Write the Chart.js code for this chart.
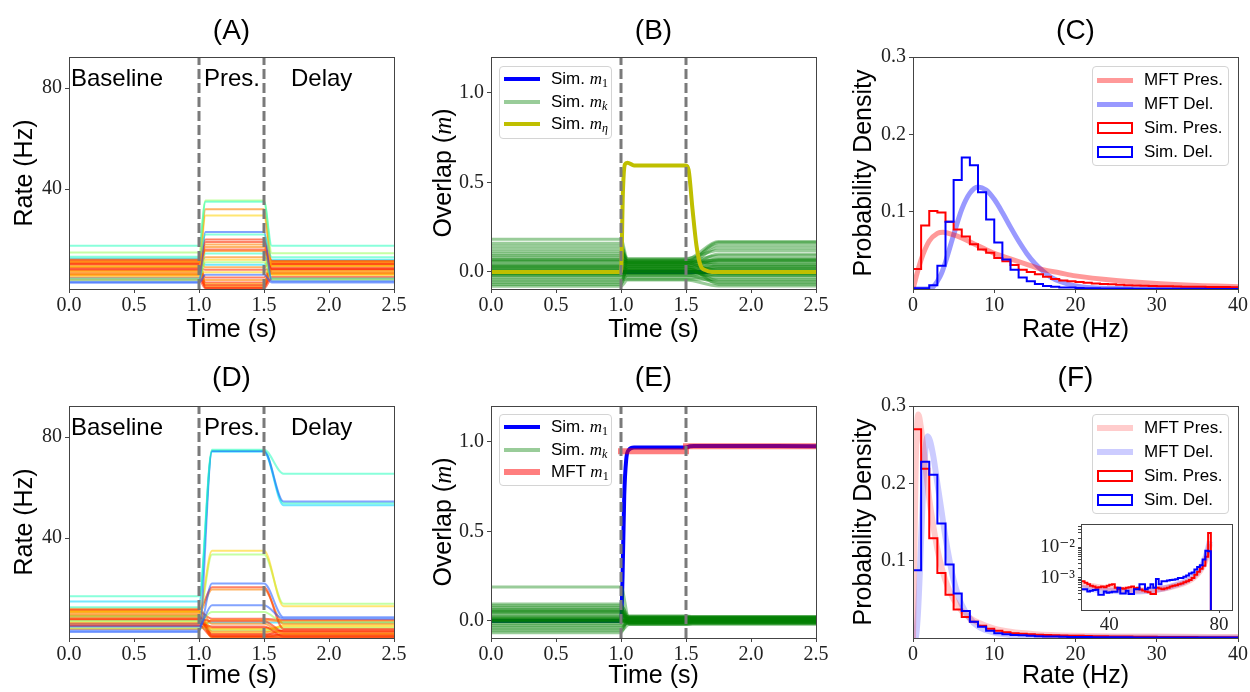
<!DOCTYPE html>
<html>
<head>
<meta charset="utf-8">
<title>Rates, overlaps and rate distributions</title>
<script src="https://cdn.jsdelivr.net/npm/chart.js@4.4.1/dist/chart.umd.min.js"></script>
<style>
  body { margin: 0; background: #fff; }
  #figure { position: relative; width: 1250px; height: 692px; overflow: hidden; font-family: "Liberation Sans", Arial, sans-serif; }
  #figure canvas { position: absolute; }
  .legend { position: absolute; box-sizing: border-box; border: 1px solid #d4d4d4; border-radius: 4px; background: rgba(255,255,255,0.8); padding: 1px 0 0 4px; font-size: 17px; color: #000; z-index: 5; }
  .legend .row { display: flex; align-items: center; white-space: nowrap; }
  .legend .sw { width: 36px; margin-right: 11px; display: flex; align-items: center; justify-content: center; }
  .legend .ln { display: block; width: 36px; }
  .legend .bx { display: block; box-sizing: border-box; width: 36px; height: 12px; border: 2px solid; }
  .math { font-family: "Liberation Serif", "DejaVu Serif", serif; font-style: italic; }
  .legend sub { font-family: "Liberation Serif", "DejaVu Serif", serif; font-size: 12px; line-height: 0; vertical-align: -3px; }
  .ytitle { position: absolute; width: 240px; height: 30px; line-height: 30px; text-align: center; font-size: 25px; color: #000; transform: rotate(-90deg); z-index: 4; }
</style>
</head>
<body>
<div id="figure">
  <div class="ytitle" style="left:322px;top:158px;">Overlap (<span class="math">m</span>)</div>
  <div class="ytitle" style="left:322px;top:507px;">Overlap (<span class="math">m</span>)</div>

  <div class="legend" style="left:499px;top:66px;width:113px;height:73px;">
    <div class="row" style="height:22.5px"><span class="sw"><span class="ln" style="height:4px;background:#0000ff"></span></span><span>Sim. <span class="math">m</span><sub>1</sub></span></div>
    <div class="row" style="height:22.5px"><span class="sw"><span class="ln" style="height:4px;background:rgba(0,128,0,0.4)"></span></span><span>Sim. <span class="math">m</span><sub class="math">k</sub></span></div>
    <div class="row" style="height:22.5px"><span class="sw"><span class="ln" style="height:4px;background:#bfbf00"></span></span><span>Sim. <span class="math">m</span><sub class="math">η</sub></span></div>
  </div>

  <div class="legend" style="left:499px;top:414px;width:113px;height:72px;">
    <div class="row" style="height:22.5px"><span class="sw"><span class="ln" style="height:4px;background:#0000ff"></span></span><span>Sim. <span class="math">m</span><sub>1</sub></span></div>
    <div class="row" style="height:22.5px"><span class="sw"><span class="ln" style="height:4px;background:rgba(0,128,0,0.4)"></span></span><span>Sim. <span class="math">m</span><sub class="math">k</sub></span></div>
    <div class="row" style="height:22.5px"><span class="sw"><span class="ln" style="height:6px;background:rgba(255,0,0,0.5)"></span></span><span>MFT <span class="math">m</span><sub>1</sub></span></div>
  </div>

  <div class="legend" style="left:1092px;top:66px;width:137px;height:100px;">
    <div class="row" style="height:24px"><span class="sw"><span class="ln" style="height:5px;background:rgba(255,0,0,0.4)"></span></span><span>MFT Pres.</span></div>
    <div class="row" style="height:24px"><span class="sw"><span class="ln" style="height:5px;background:rgba(0,0,255,0.4)"></span></span><span>MFT Del.</span></div>
    <div class="row" style="height:24px"><span class="sw"><span class="bx" style="border-color:#ff0000"></span></span><span>Sim. Pres.</span></div>
    <div class="row" style="height:24px"><span class="sw"><span class="bx" style="border-color:#0000ff"></span></span><span>Sim. Del.</span></div>
  </div>

  <div class="legend" style="left:1092px;top:414px;width:137px;height:100px;">
    <div class="row" style="height:24px"><span class="sw"><span class="ln" style="height:6px;background:rgba(255,0,0,0.2)"></span></span><span>MFT Pres.</span></div>
    <div class="row" style="height:24px"><span class="sw"><span class="ln" style="height:6px;background:rgba(0,0,255,0.2)"></span></span><span>MFT Del.</span></div>
    <div class="row" style="height:24px"><span class="sw"><span class="bx" style="border-color:#ff0000"></span></span><span>Sim. Pres.</span></div>
    <div class="row" style="height:24px"><span class="sw"><span class="bx" style="border-color:#0000ff"></span></span><span>Sim. Del.</span></div>
  </div>
</div>

<script>
// ---------------- data ----------------
const timeTicks = [0, 0.5, 1.0, 1.5, 2.0, 2.5];
const rateTicks = [40, 80];
const overlapTicks = [0, 0.5, 1.0];
const densityTicks = [0.1, 0.2, 0.3];
const hzTicks = [0, 10, 20, 30, 40];
const insetHzTicks = [40, 80];
const insetMajorTicks = [0.001, 0.01];
const insetMinorTicks = [0.0002, 0.0003, 0.0004, 0.0005, 0.0006, 0.0007, 0.0008, 0.0009,
  0.002, 0.003, 0.004, 0.005, 0.006, 0.007, 0.008, 0.009, 0.02, 0.03, 0.04, 0.05];

const cueTimes = [1.0, 1.5];
const phaseNames = ["Baseline", "Pres.", "Delay"];

// knot times of each trace: start, cue on, settled, cue off, settled, end
const knotsA = [0, 1.0, 1.05, 1.5, 1.56, 2.5];
const knotsD = [0, 1.0, 1.1, 1.5, 1.65, 2.5];
const knotsB = [0, 1.0, 1.05, 1.5, 1.75, 2.5];
const knotsE = [0, 1.0, 1.06, 1.5, 1.55, 2.5];

// (A) single-neuron rates, Hz: [baseline, presentation, delay]
const ratesA = [
  [17.5, 35.0, 17.5], [14.9, 35.5, 14.6], [13.2, 22.0, 13.0], [11.0, 32.0, 11.2],
  [9.2, 29.5, 9.6], [3.3, 23.0, 3.5], [12.0, 20.0, 11.5], [8.1, 19.0, 8.2],
  [6.1, 18.0, 6.6], [10.6, 16.0, 10.4], [7.0, 15.5, 7.2], [4.6, 14.5, 4.6],
  [9.6, 13.0, 9.4], [5.6, 12.0, 6.0], [3.9, 11.0, 4.1], [12.5, 10.0, 12.0],
  [11.5, 9.0, 11.0], [8.6, 8.0, 8.4], [7.5, 7.0, 7.6], [2.9, 6.0, 3.0],
  [10.1, 5.0, 10.0], [6.5, 4.0, 6.6], [9.0, 3.0, 8.9], [5.0, 2.0, 5.2],
  [11.2, 1.5, 10.6], [7.8, 1.0, 8.0], [12.1, 2.5, 11.6], [4.2, 0.6, 4.5],
  [6.0, 17.0, 6.1], [10.4, 0.9, 10.1]
];
const hueA = ["aqua", "lime", "aqua", "orange", "yellow", "blue", "red", "red",
  "orange", "red", "orange", "aqua", "orange", "yellow", "lime", "cyan",
  "orange", "red", "yellow", "blue", "red", "orange", "red", "red",
  "orange", "red", "yellow", "red", "orange", "red"];

// (D) single-neuron rates, Hz: [baseline, presentation, delay]
const ratesD = [
  [16.9, 75.0, 65.5], [2.8, 74.5, 54.5], [14.9, 74.2, 53.0], [12.6, 74.6, 53.8],
  [11.0, 35.0, 13.0], [9.0, 33.5, 14.0], [3.4, 22.0, 8.6], [5.0, 13.4, 8.0],
  [11.6, 20.5, 4.0], [10.1, 19.6, 6.0], [7.1, 10.7, 6.5], [8.1, 7.0, 3.0],
  [12.0, 6.0, 2.0], [6.1, 5.0, 1.0], [10.6, 4.0, 5.0], [9.5, 3.0, 2.5],
  [7.6, 2.0, 1.5], [5.5, 1.0, 0.5], [4.5, 3.5, 4.5], [8.6, 0.5, 0.8],
  [11.2, 1.5, 3.5], [6.6, 2.5, 5.5], [4.0, 7.5, 7.0], [9.1, 0.8, 2.0],
  [6.0, 6.5, 6.5], [10.8, 8.0, 7.5], [7.8, 1.2, 1.2], [5.2, 4.5, 3.0]
];
const hueD = ["aqua", "blue", "cyan", "aqua", "yellow", "lime", "blue", "blue",
  "red", "orange", "lime", "red", "orange", "red", "yellow", "orange",
  "red", "red", "lime", "orange", "red", "yellow", "orange", "red",
  "cyan", "red", "orange", "red"];

// (B) overlaps with the other patterns m_k: [baseline, presentation, delay]
const overlapsB = [
  [0.183, 0.07, 0.17], [0.16, 0.05, 0.165], [0.145, 0.06, 0.15], [0.13, 0.04, 0.135],
  [0.115, 0.075, 0.12], [0.10, 0.03, 0.10], [0.09, 0.06, 0.09], [0.08, 0.02, 0.075],
  [0.07, 0.05, 0.07], [0.06, 0.01, 0.06], [0.05, 0.045, 0.055], [0.04, 0.0, 0.04],
  [0.03, 0.035, 0.03], [0.02, -0.01, 0.02], [0.01, 0.025, 0.012], [0.0, -0.02, 0.0],
  [-0.01, 0.015, -0.01], [-0.02, -0.03, -0.02], [-0.03, 0.005, -0.03], [-0.04, -0.04, -0.042],
  [-0.05, 0.02, -0.05], [-0.06, -0.015, -0.06], [-0.07, 0.03, -0.068], [-0.079, -0.045, -0.078],
  [0.065, 0.055, 0.065], [0.025, 0.01, 0.025], [-0.015, -0.005, -0.015], [0.035, 0.065, 0.04],
  [0.004, 0.002, 0.003], [-0.004, -0.003, -0.002], [0.012, 0.04, 0.01], [-0.006, 0.055, -0.005]
];
const m1TimesB = [0, 2.5];
const m1ValuesB = [0, 0];
const etaTimesB = [0, 1.0, 1.015, 1.03, 1.05, 1.1, 1.5, 1.52, 1.55, 1.58, 1.61, 1.65, 1.7, 2.5];
const etaValuesB = [0, 0, 0.45, 0.6, 0.61, 0.595, 0.595, 0.57, 0.35, 0.15, 0.04, 0.01, 0, 0];

// (E) overlaps m_k: [baseline, presentation, delay]
const overlapsE = [
  [0.19, 0.02, 0.02], [0.095, 0.0, 0.005], [0.085, 0.028, 0.025], [0.075, -0.012, -0.01],
  [0.065, 0.018, 0.02], [0.055, -0.018, -0.015], [0.045, 0.01, 0.01], [0.035, 0.024, 0.022],
  [0.025, -0.005, 0.0], [0.015, 0.014, 0.015], [0.005, -0.015, -0.012], [-0.005, 0.005, 0.005],
  [-0.015, 0.02, 0.018], [-0.025, -0.01, -0.008], [-0.035, 0.0, 0.0], [-0.045, 0.008, 0.01],
  [-0.055, -0.02, -0.018], [-0.065, 0.015, 0.012], [0.06, -0.005, -0.004], [0.02, 0.026, 0.024],
  [0.05, -0.008, -0.006], [0.01, 0.012, 0.01], [0.003, -0.002, -0.001], [-0.003, 0.003, 0.002],
  [0.0, 0.0, 0.0], [0.007, -0.007, -0.006]
];
const m1TimesE = [0, 1.0, 1.012, 1.025, 1.04, 1.06, 1.1, 1.5, 1.53, 1.56, 2.5];
const m1ValuesE = [0, 0, 0.25, 0.7, 0.9, 0.955, 0.968, 0.968, 0.975, 0.977, 0.976];
const mftPresTimesE = [0.977, 1.523];
const mftPresE = [0.948, 0.948];
const mftDelayTimesE = [1.477, 2.5];
const mftDelayE = [0.976, 0.976];

// (C, F) rate histograms, 1 Hz bins
const binEdgesHz = [0, 1, 2, 3, 4, 5, 6, 7, 8, 9, 10, 11, 12, 13, 14, 15, 16, 17, 18, 19, 20,
  21, 22, 23, 24, 25, 26, 27, 28, 29, 30, 31, 32, 33, 34, 35, 36, 37, 38, 39, 40];
const simPresC = [0.026, 0.082, 0.101, 0.099, 0.087, 0.077, 0.068, 0.058, 0.051, 0.047,
  0.040, 0.036, 0.031, 0.025, 0.022, 0.019, 0.016, 0.013, 0.011, 0.010,
  0.009, 0.008, 0.007, 0.0065, 0.006, 0.0055, 0.005, 0.0045, 0.0042, 0.004,
  0.0037, 0.0035, 0.0033, 0.003, 0.0029, 0.0028, 0.0027, 0.0026, 0.0025, 0.0024];
const simDelC = [0.001, 0.001, 0.005, 0.030, 0.087, 0.141, 0.170, 0.160, 0.125, 0.090,
  0.060, 0.038, 0.025, 0.015, 0.010, 0.0065, 0.004, 0.003, 0.002, 0.002,
  0.0012, 0.001, 0.001, 0.0008, 0.0006, 0.0005, 0.0005, 0.0004, 0.0004, 0.0003,
  0.0003, 0.0003, 0.0002, 0.0002, 0.0002, 0.0002, 0.0001, 0.0001, 0.0001, 0.0001];
const mftPresHzC = [0, 0.5, 1, 2, 3, 3.7, 5, 6, 7, 8, 10, 12, 14, 16, 18, 20, 25, 30, 35, 40];
const mftPresC = [0, 0.02, 0.038, 0.062, 0.072, 0.0735, 0.070, 0.066, 0.061, 0.056,
  0.046, 0.039, 0.032, 0.025, 0.021, 0.017, 0.011, 0.007, 0.0045, 0.003];
const mftDelHzC = [0, 2, 2.5, 3, 3.5, 4, 5, 6, 7, 8, 9, 10, 11, 12, 13, 14, 15, 16, 17, 18, 20, 22, 25, 30, 40];
const mftDelC = [0, 0, 0.003, 0.01, 0.02, 0.035, 0.07, 0.103, 0.124, 0.132, 0.128, 0.116, 0.099,
  0.080, 0.062, 0.046, 0.033, 0.023, 0.015, 0.010, 0.004, 0.0015, 0.0005, 0.0001, 0];

const simPresF = [0.270, 0.219, 0.129, 0.084, 0.056, 0.037, 0.027, 0.021, 0.016, 0.012,
  0.0095, 0.0073, 0.0062, 0.0055, 0.0048, 0.0043, 0.004, 0.0036, 0.0033, 0.003,
  0.0028, 0.0026, 0.0024, 0.0022, 0.002, 0.0019, 0.0018, 0.0017, 0.0016, 0.0015,
  0.0014, 0.0013, 0.0013, 0.0012, 0.0012, 0.0011, 0.0011, 0.001, 0.001, 0.001];
const simDelF = [0.0875, 0.228, 0.211, 0.148, 0.095, 0.0575, 0.035, 0.021, 0.0146, 0.0095,
  0.006, 0.0047, 0.004, 0.0034, 0.0028, 0.0024, 0.002, 0.0018, 0.0016, 0.0014,
  0.0013, 0.0012, 0.0011, 0.001, 0.001, 0.0009, 0.0009, 0.0008, 0.0008, 0.0008,
  0.0007, 0.0007, 0.0007, 0.0006, 0.0006, 0.0006, 0.0006, 0.0006, 0.0005, 0.0005];
const mftPresHzF = [0, 0.15, 0.35, 0.65, 1.0, 1.5, 2, 2.5, 3, 3.5, 4, 5, 6, 7, 8, 10, 12, 15, 20, 30, 40];
const mftPresF = [0, 0.1, 0.23, 0.289, 0.27, 0.225, 0.18, 0.145, 0.115, 0.092, 0.074, 0.05,
  0.035, 0.026, 0.02, 0.012, 0.008, 0.005, 0.003, 0.0018, 0.0012];
const mftDelHzF = [0, 0.3, 0.6, 0.9, 1.2, 1.5, 1.8, 2.1, 2.5, 3, 3.5, 4, 4.5, 5, 5.5, 6, 7, 8, 9, 10, 12, 15, 20, 30, 40];
const mftDelF = [0, 0, 0.03, 0.1, 0.18, 0.24, 0.261, 0.255, 0.235, 0.2, 0.165, 0.13, 0.1, 0.075,
  0.057, 0.043, 0.025, 0.015, 0.01, 0.007, 0.004, 0.002, 0.001, 0.0005, 0.0003];

// (F inset) high-rate tail, log density, 1 Hz bins from 29 to 77 Hz
const insetEdgesHz = [29, 30, 31, 32, 33, 34, 35, 36, 37, 38, 39, 40, 41, 42, 43, 44, 45, 46, 47, 48,
  49, 50, 51, 52, 53, 54, 55, 56, 57, 58, 59, 60, 61, 62, 63, 64, 65, 66, 67, 68,
  69, 70, 71, 72, 73, 74, 75, 76, 77];
const insetPres = [7.8e-4, 7.8e-4, 7.0e-4, 6.2e-4, 5.5e-4, 5.2e-4, 4.8e-4, 5.0e-4, 5.2e-4, 5.0e-4,
  5.5e-4, 6.0e-4, 6.2e-4, 4.8e-4, 4.3e-4, 4.6e-4, 4.4e-4, 4.8e-4, 5.0e-4, 5.2e-4,
  4.6e-4, 4.8e-4, 4.2e-4, 3.9e-4, 3.6e-4, 3.4e-4, 3.0e-4, 3.0e-4, 4.8e-4, 4.5e-4,
  4.3e-4, 4.5e-4, 4.8e-4, 5.2e-4, 5.5e-4, 5.8e-4, 6.2e-4, 6.6e-4, 7.2e-4, 7.8e-4,
  8.5e-4, 1.0e-3, 1.27e-3, 1.6e-3, 2.0e-3, 2.5e-3, 5.0e-3, 3.0e-2];
const insetDel = [4.3e-4, 4.3e-4, 4.3e-4, 3.6e-4, 3.8e-4, 4.0e-4, 4.1e-4, 2.8e-4, 2.8e-4, 3.6e-4,
  3.3e-4, 3.4e-4, 3.5e-4, 3.5e-4, 4.8e-4, 3.1e-4, 3.1e-4, 3.8e-4, 3.0e-4, 3.0e-4,
  4.3e-4, 4.3e-4, 6.2e-4, 6.2e-4, 4.3e-4, 4.8e-4, 6.2e-4, 4.8e-4, 9.3e-4, 6.2e-4,
  7.8e-4, 7.8e-4, 8.2e-4, 8.5e-4, 8.8e-4, 9.0e-4, 1.0e-3, 1.0e-3, 1.1e-3, 1.2e-3,
  1.4e-3, 1.5e-3, 1.9e-3, 2.3e-3, 2.6e-3, 4.0e-3, 7.8e-3, 7.5e-3];
const mftInsetHz = [29, 35, 40, 45, 50, 55, 60, 65, 68, 70, 72, 74, 75, 76, 76.6];
const mftInsetPres = [6.5e-4, 5.2e-4, 4.5e-4, 4.1e-4, 3.9e-4, 4.0e-4, 4.5e-4, 5.8e-4, 7.2e-4,
  9.0e-4, 1.3e-3, 2.3e-3, 3.6e-3, 7.0e-3, 1.3e-2];
const mftInsetDel = [4.8e-4, 4.2e-4, 3.8e-4, 3.6e-4, 3.6e-4, 3.9e-4, 4.6e-4, 6.2e-4, 8.0e-4,
  1.05e-3, 1.5e-3, 2.8e-3, 4.6e-3, 9.5e-3, 1.6e-2];

// ---------------- styling ----------------
const SANS = '"Liberation Sans", Arial, sans-serif';
const SERIF = '"Liberation Serif", "DejaVu Serif", serif';
const AXIS_COLOR = "#444";
const jet = {
  blue: "rgba(30,90,255,0.55)",
  cyan: "rgba(0,215,255,0.55)",
  aqua: "rgba(40,255,190,0.55)",
  lime: "rgba(150,255,90,0.55)",
  yellow: "rgba(255,210,0,0.55)",
  orange: "rgba(255,130,0,0.6)",
  red: "rgba(255,45,0,0.6)"
};

Chart.defaults.font.family = SANS;

const framePlugin = {
  id: "frame",
  beforeDatasetsDraw(chart, args, opts)
  {
     if (!opts.fill) return;
     const a = chart.chartArea;
     chart.ctx.save();
     chart.ctx.fillStyle = opts.fill;
     chart.ctx.fillRect(a.left, a.top, a.right - a.left, a.bottom - a.top);
     chart.ctx.restore();
  },
  afterDraw(chart)
  {
     const a = chart.chartArea;
     const ctx = chart.ctx;
     ctx.save();
     ctx.strokeStyle = AXIS_COLOR;
     ctx.lineWidth = 1;
     const l = Math.round(a.left) + 0.5, t = Math.round(a.top) + 0.5;
     ctx.strokeRect(l, t, Math.round(a.right) - Math.round(a.left), Math.round(a.bottom) - Math.round(a.top));
     ctx.restore();
  }
};

// region names written inside the rate panels
const phasePlugin = {
  id: "phaseLabels",
  afterDatasetsDraw(chart, args, opts)
  {
     if (!opts.names) return;
     const ctx = chart.ctx;
     const x = chart.scales.x, y = chart.scales.y;
     ctx.save();
     ctx.font = "24px " + SANS;
     ctx.fillStyle = "#000";
     ctx.textBaseline = "alphabetic";
     opts.names.forEach(function(name, i)
     {
        ctx.fillText(name, x.getPixelForValue(opts.at[i]) + opts.dx[i], y.getPixelForValue(opts.y));
     });
     ctx.restore();
  }
};

Chart.register(framePlugin, phasePlugin);

function axis(o)
{
   return {
      type: o.type || "linear",
      min: o.min,
      max: o.max,
      afterBuildTicks: function(s) { s.ticks = o.ticks.map(v => ({ value: v })); },
      afterFit: function(s) { if (s.isHorizontal()) s.height = o.size; else s.width = o.size; },
      grid: { drawOnChartArea: false, tickLength: o.tickLength || 4, tickColor: AXIS_COLOR },
      border: { display: true, color: AXIS_COLOR },
      ticks: {
         font: { family: SERIF, size: o.tickSize || 20 },
         color: "#222",
         padding: o.tickPad,
         autoSkip: false,
         maxRotation: 0,
         callback: o.format
      },
      title: o.title ? {
         display: true, text: o.title, color: "#000",
         font: { family: SANS, size: 25 },
         padding: o.titlePad
      } : { display: false }
   };
}

function panelOptions(box, title, xAxis, yAxis, extra)
{
   const titleTop = box.plotTop - box.top > 58 ? 15 : 14;
   const opts = {
      responsive: false,
      animation: false,
      events: [],
      layout: { padding: { left: 0, right: box.left + box.width - box.plotRight, top: title ? 0 : box.plotTop - box.top, bottom: 0 } },
      plugins: {
         legend: { display: false },
         tooltip: { enabled: false },
         title: title ? {
            display: true, text: title, fullSize: false, color: "#000",
            font: { family: SANS, size: 28, weight: "normal" },
            padding: { top: titleTop, bottom: box.plotTop - box.top - titleTop - 33.6 }
         } : { display: false }
      },
      scales: { x: xAxis, y: yAxis }
   };
   Object.assign(opts.plugins, extra || {});
   return opts;
}

function makeChart(box, datasets, options)
{
   const canvas = document.createElement("canvas");
   canvas.width = box.width;
   canvas.height = box.height;
   canvas.style.left = box.left + "px";
   canvas.style.top = box.top + "px";
   canvas.style.zIndex = box.z || 1;
   document.getElementById("figure").appendChild(canvas);
   return new Chart(canvas.getContext("2d"), { type: "line", data: { datasets: datasets }, options: options });
}

function levelTrace(knots, levels, color, width, order)
{
   const pick = [0, 0, 1, 1, 2, 2];
   return {
      data: knots.map((t, i) => ({ x: t, y: levels[pick[i]] })),
      borderColor: color, borderWidth: width, pointRadius: 0,
      cubicInterpolationMode: "monotone", fill: false, order: order
   };
}

function curve(xs, ys, color, width, order)
{
   return {
      data: xs.map((x, i) => ({ x: x, y: ys[i] })),
      borderColor: color, borderWidth: width, pointRadius: 0,
      cubicInterpolationMode: "monotone", fill: false, order: order
   };
}

function stepHistogram(edges, dens, color, order, base, closeRight)
{
   const pts = [{ x: edges[0], y: base }];
   dens.forEach((d, i) => pts.push({ x: edges[i], y: d }));
   pts.push({ x: edges[dens.length], y: dens[dens.length - 1] });
   if (closeRight) pts.push({ x: edges[dens.length], y: base });
   return { data: pts, stepped: true, borderColor: color, borderWidth: 2, pointRadius: 0, fill: false, order: order };
}

function cueLines(yMin, yMax)
{
   return cueTimes.map(t => ({
      data: [{ x: t, y: yMin }, { x: t, y: yMax }],
      borderColor: "#7a7a7a", borderWidth: 3, borderDash: [10, 4], pointRadius: 0, fill: false, order: -1
   }));
}

const fmt1 = v => v.toFixed(1);
const fmt0 = v => String(Math.round(v));

// ---------------- panel geometry ----------------
const boxA = { left: 0, top: 0, width: 410, height: 346, plotLeft: 69, plotTop: 57, plotRight: 394, plotBottom: 289 };
const boxB = { left: 420, top: 0, width: 412, height: 346, plotLeft: 491, plotTop: 57, plotRight: 816, plotBottom: 289 };
const boxC = { left: 840, top: 0, width: 410, height: 346, plotLeft: 913, plotTop: 57, plotRight: 1238, plotBottom: 289 };
const boxD = { left: 0, top: 346, width: 410, height: 346, plotLeft: 69, plotTop: 406, plotRight: 394, plotBottom: 638 };
const boxE = { left: 420, top: 346, width: 412, height: 346, plotLeft: 491, plotTop: 406, plotRight: 816, plotBottom: 638 };
const boxF = { left: 840, top: 346, width: 410, height: 346, plotLeft: 913, plotTop: 406, plotRight: 1238, plotBottom: 638 };
const boxInset = { left: 1030, top: 510, width: 215, height: 130, plotLeft: 1081, plotTop: 521, plotRight: 1232, plotBottom: 610, z: 3 };

function timeAxis(box)
{
   return axis({ min: 0, max: 2.5, ticks: timeTicks, format: fmt1, size: box.top + box.height - box.plotBottom,
      tickPad: 1, title: "Time (s)", titlePad: { top: 0, bottom: 1 } });
}
function hzAxis(box)
{
   return axis({ min: 0, max: 40, ticks: hzTicks, format: fmt0, size: box.top + box.height - box.plotBottom,
      tickPad: 1, title: "Rate (Hz)", titlePad: { top: 0, bottom: 1 } });
}

// ---------------- (A) and (D): rates ----------------
function ratePanel(box, title, knots, rates, hues)
{
   const sets = rates.map((r, i) => levelTrace(knots, r, jet[hues[i]], 2, 2));
   const yMin = 0.4, yMax = 92.3;
   makeChart(box, sets.concat(cueLines(yMin, yMax)), panelOptions(box, title,
      timeAxis(box),
      axis({ min: yMin, max: yMax, ticks: rateTicks, format: fmt0, size: box.plotLeft - box.left,
         tickPad: 3, title: "Rate (Hz)", titlePad: { top: 10, bottom: 0 } }),
      { phaseLabels: { names: phaseNames, at: [0, cueTimes[0], cueTimes[1]], dx: [2, 5, 27], y: 80.7 } }));
}
ratePanel(boxA, "(A)", knotsA, ratesA, hueA);
ratePanel(boxD, "(D)", knotsD, ratesD, hueD);

// ---------------- (B) and (E): overlaps ----------------
function overlapAxis(box)
{
   return axis({ min: -0.095, max: 1.2, ticks: overlapTicks, format: fmt1, size: box.plotLeft - box.left, tickPad: 3 });
}

// m1 sits underneath the m_k bundle, as in the simulation plot
const setsB = [curve(m1TimesB, m1ValuesB, "#0000ff", 4, 5)]
   .concat(overlapsB.map(o => levelTrace(knotsB, o, "rgba(0,128,0,0.4)", 3, 3)))
   .concat([curve(etaTimesB, etaValuesB, "#bfbf00", 4, 1)])
   .concat(cueLines(-0.095, 1.2));
makeChart(boxB, setsB, panelOptions(boxB, "(B)", timeAxis(boxB), overlapAxis(boxB)));

const setsE = [curve(m1TimesE, m1ValuesE, "#0000ff", 4, 4)]
   .concat(overlapsE.map(o => levelTrace(knotsE, o, "rgba(0,128,0,0.4)", 3, 3)))
   .concat([curve(mftPresTimesE, mftPresE, "rgba(255,0,0,0.5)", 6, 1), curve(mftDelayTimesE, mftDelayE, "rgba(255,0,0,0.5)", 6, 1)])
   .concat(cueLines(-0.095, 1.2));
makeChart(boxE, setsE, panelOptions(boxE, "(E)", timeAxis(boxE), overlapAxis(boxE)));

// ---------------- (C) and (F): rate distributions ----------------
function densityAxis(box)
{
   return axis({ min: 0, max: 0.3, ticks: densityTicks, format: fmt1, size: box.plotLeft - box.left,
      tickPad: 3, title: "Probability Density", titlePad: { top: 9, bottom: 0 } });
}

makeChart(boxC, [
   curve(mftPresHzC, mftPresC, "rgba(255,0,0,0.4)", 5, 3),
   curve(mftDelHzC, mftDelC, "rgba(0,0,255,0.4)", 5, 3),
   stepHistogram(binEdgesHz, simPresC, "#ff0000", 1, 0, false),
   stepHistogram(binEdgesHz, simDelC, "#0000ff", 0, 0, false)
], panelOptions(boxC, "(C)", hzAxis(boxC), densityAxis(boxC)));

makeChart(boxF, [
   curve(mftPresHzF, mftPresF, "rgba(255,0,0,0.2)", 6, 3),
   curve(mftDelHzF, mftDelF, "rgba(0,0,255,0.2)", 6, 3),
   stepHistogram(binEdgesHz, simPresF, "#ff0000", 1, 0, false),
   stepHistogram(binEdgesHz, simDelF, "#0000ff", 0, 0, false)
], panelOptions(boxF, "(F)", hzAxis(boxF), densityAxis(boxF)));

// inset of (F): tail on a log scale
const insetFloor = 1e-6;
makeChart(boxInset, [
   curve(mftInsetHz, mftInsetPres, "rgba(255,0,0,0.2)", 6, 3),
   curve(mftInsetHz, mftInsetDel, "rgba(0,0,255,0.2)", 6, 3),
   stepHistogram(insetEdgesHz, insetPres, "#ff0000", 1, insetFloor, true),
   stepHistogram(insetEdgesHz, insetDel, "#0000ff", 0, insetFloor, true)
], panelOptions(boxInset, null,
   axis({ min: 29.7, max: 84.7, ticks: insetHzTicks, format: fmt0, size: boxInset.top + boxInset.height - boxInset.plotBottom,
      tickPad: 1, tickSize: 19, tickLength: 3 }),
   axis({ type: "logarithmic", min: 8.9e-5, max: 0.057, ticks: insetMajorTicks.concat(insetMinorTicks),
      size: boxInset.plotLeft - boxInset.left, tickPad: 3, tickSize: 19, tickLength: 3,
      format: v => (Math.abs(v - 0.01) < 1e-9 ? "10\u207B\u00B2" : (Math.abs(v - 0.001) < 1e-10 ? "10\u207B\u00B3" : "")) }),
   { frame: { fill: "#ffffff" } }));
</script>
</body>
</html>
